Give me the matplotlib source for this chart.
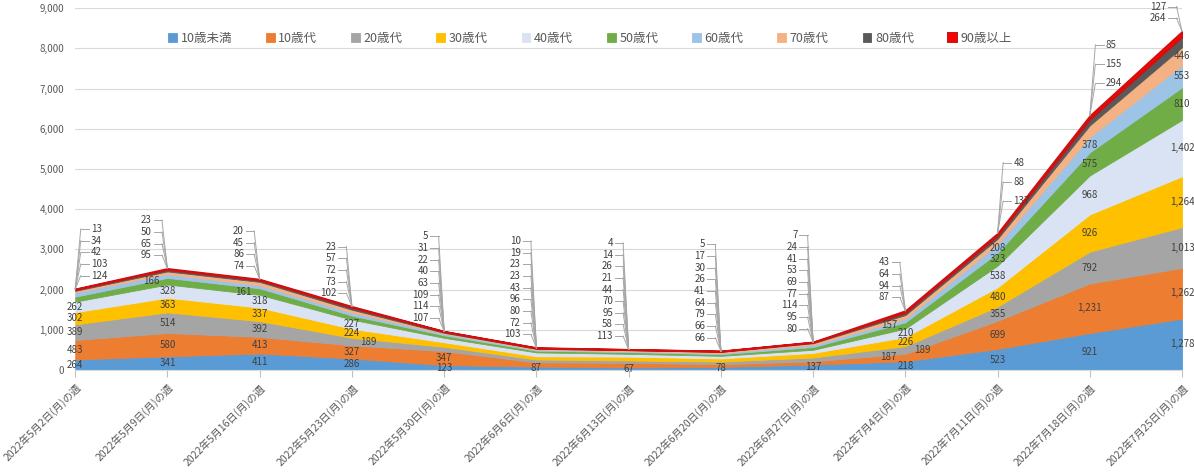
import matplotlib.pyplot as plt
import numpy as np

plt.rcParams['font.family'] = ['Noto Sans CJK JP', 'DejaVu Sans']

# 週ごとの年代別陽性者数
weeks = ['2022年5月2日(月)の週', '2022年5月9日(月)の週', '2022年5月16日(月)の週',
         '2022年5月23日(月)の週', '2022年5月30日(月)の週', '2022年6月6日(月)の週',
         '2022年6月13日(月)の週', '2022年6月20日(月)の週', '2022年6月27日(月)の週',
         '2022年7月4日(月)の週', '2022年7月11日(月)の週', '2022年7月18日(月)の週',
         '2022年7月25日(月)の週']
ages = ['10歳未満', '10歳代', '20歳代', '30歳代', '40歳代',
        '50歳代', '60歳代', '70歳代', '80歳代', '90歳以上']

under10 = [264, 341, 411, 286, 123, 87, 67, 78, 137, 218, 523, 921, 1278]
age10 = [483, 580, 413, 327, 347, 103, 113, 66, 80, 187, 699, 1231, 1262]
age20 = [389, 514, 392, 189, 107, 72, 58, 66, 95, 189, 355, 792, 1013]
age30 = [302, 363, 337, 224, 114, 80, 95, 79, 114, 226, 480, 926, 1264]
age40 = [262, 328, 318, 227, 109, 96, 70, 64, 77, 210, 538, 968, 1402]
age50 = [124, 166, 161, 102, 63, 43, 44, 41, 69, 157, 323, 575, 810]
age60 = [103, 95, 74, 73, 40, 23, 21, 26, 53, 87, 208, 378, 553]
age70 = [42, 65, 86, 72, 22, 23, 26, 30, 41, 94, 137, 294, 446]
age80 = [34, 50, 45, 57, 31, 19, 14, 17, 24, 64, 88, 155, 264]
over90 = [13, 23, 20, 23, 5, 10, 4, 5, 7, 43, 48, 85, 127]

series = [under10, age10, age20, age30, age40, age50, age60, age70, age80, over90]
colors = ['#5B9BD5', '#ED7D31', '#A5A5A5', '#FFC000', '#DAE3F3',
          '#70AD47', '#9DC3E6', '#F4B183', '#595959', '#FF0000']

x = np.arange(len(weeks))
totals = np.sum(np.array(series), axis=0)

fig, ax = plt.subplots(figsize=(11.94, 4.75), dpi=100)
fig.subplots_adjust(left=0.063, right=0.99, top=0.983, bottom=0.221)

polys = ax.stackplot(x, *series, colors=colors, labels=ages)
for p, c in zip(polys, colors):
    p.set_edgecolor(c)
    p.set_linewidth(0.6)
polys[-1].set_edgecolor('#D01010')
polys[-1].set_linewidth(1.4)

ax.set_xlim(0, len(weeks) - 1)
ax.set_ylim(0, 9000)
ax.set_yticks(range(0, 9001, 1000))
ax.set_yticklabels([f'{v:,}' for v in range(0, 9001, 1000)])
ax.yaxis.grid(True, color='#D9D9D9', linewidth=0.8)
ax.set_axisbelow(True)
for s in ['top', 'right', 'left']:
    ax.spines[s].set_visible(False)
ax.spines['bottom'].set_color('#D9D9D9')
ax.tick_params(axis='y', length=0, labelsize=7, labelcolor='#595959', pad=8)
ax.tick_params(axis='x', length=5, color='#BFBFBF', labelsize=7.5, labelcolor='#595959')
ax.set_xticks(x)
ax.set_xticklabels(weeks, rotation=45, ha='right', rotation_mode='anchor')

# データラベル: 厚い帯は帯の中央、薄い帯は上に積んで引き出し線
for i in range(len(weeks)):
    cum = 0
    top = totals[i]
    stacked = []
    for j, vals in enumerate(series):
        v = vals[i]
        if j == 0 or (v >= 150 and (j < 7 or v >= 400)):
            dx = 0.18 * (-1) ** j if (j > 0 and v < 200) else 0
            ax.text(i + dx, cum + v / 2, f'{v:,}', ha='center', va='center',
                    fontsize=7, color='#404040')
        else:
            stacked.append(v)
        cum += v
    if i in (10, 11):
        side, start, step = 1, 800, 480
    else:
        side, start, step = (1 if i == 0 else -1), 330, 290
    for k, v in enumerate(stacked):
        ly = top + start + k * step
        lx = i + side * 0.17
        ax.plot([i + side * 0.06, i], [ly, top], color='#A6A6A6', lw=0.7,
                clip_on=False)
        ax.plot([i + side * 0.06, lx - side * 0.02], [ly, ly], color='#A6A6A6',
                lw=0.7, clip_on=False)
        ax.text(lx, ly, f'{v:,}', ha='left' if side > 0 else 'right',
                va='center', fontsize=7, color='#404040')

leg = ax.legend(loc='center', bbox_to_anchor=(0.465, 0.917), ncol=10,
                frameon=False, fontsize=9, handlelength=0.7, handleheight=0.7,
                handletextpad=0.3, columnspacing=2.7)
for t in leg.get_texts():
    t.set_color('#595959')

fig.savefig('out.png', dpi=100)
